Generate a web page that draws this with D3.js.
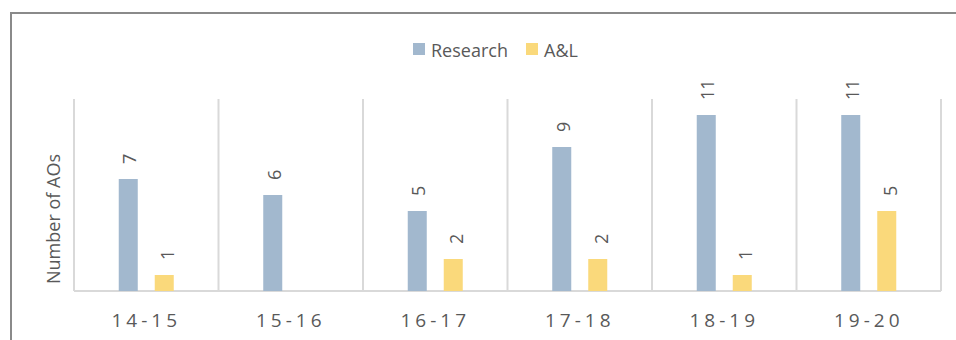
<!DOCTYPE html>
<html>
<head>
<meta charset="utf-8">
<script src="https://cdn.jsdelivr.net/npm/d3@7"></script>
<style>
  body { margin: 0; background: #fff; }
  svg { display: block; }
  text { font-family: "Open Sans", "Noto Sans", sans-serif; fill: #595959; }
</style>
</head>
<body>
<svg width="956" height="340"></svg>
<script>
const years = ["14-15", "15-16", "16-17", "17-18", "18-19", "19-20"];
const series = ["Research", "A&L"];
const research = [7, 6, 5, 9, 11, 11];
const al = [1, null, 2, 2, 1, 5];
const colors = ["#a2b8ce", "#fad97b"];

const svg = d3.select("svg");

// chart frame (cropped on the right and bottom)
svg.append("path")
  .attr("d", "M11,340 V13 H956")
  .attr("fill", "none")
  .attr("stroke", "#8a8a8a")
  .attr("stroke-width", 2);

const plotLeft = 74, plotRight = 941, plotTop = 99, plotBottom = 291;

const x0 = d3.scaleBand().domain(years).range([plotLeft, plotRight]);
const x1 = d3.scaleBand().domain(series)
  .range([0, x0.bandwidth()])
  .paddingInner(0.472)
  .paddingOuter(1.243);
const y = d3.scaleLinear().domain([0, 12]).range([plotBottom, plotTop]);

// category dividers
const divs = years.map(d => x0(d)).concat([plotRight]);
svg.append("g").selectAll("line")
  .data(divs)
  .join("line")
  .attr("x1", d => d).attr("x2", d => d)
  .attr("y1", plotTop).attr("y2", plotBottom)
  .attr("stroke", "#d9d9d9")
  .attr("stroke-width", 2);

// baseline
svg.append("line")
  .attr("x1", plotLeft).attr("x2", plotRight)
  .attr("y1", plotBottom).attr("y2", plotBottom)
  .attr("stroke", "#d9d9d9")
  .attr("stroke-width", 2);

const rows = years.map((yr, i) => ({ yr, vals: [research[i], al[i]] }));

const groups = svg.append("g").selectAll("g")
  .data(rows)
  .join("g")
  .attr("transform", d => `translate(${x0(d.yr)},0)`);

const cells = groups.selectAll("g")
  .data(d => series.map((s, j) => ({ s, j, v: d.vals[j] })).filter(c => c.v != null))
  .join("g");

cells.append("rect")
  .attr("x", c => x1(c.s))
  .attr("width", x1.bandwidth())
  .attr("y", c => y(c.v))
  .attr("height", c => plotBottom - y(c.v))
  .attr("fill", c => colors[c.j]);

cells.append("text")
  .attr("transform", c => `translate(${x1(c.s) + x1.bandwidth() / 2 + 8 + c.j * 2},${y(c.v) - 15}) rotate(-90)`)
  .attr("text-anchor", "start")
  .attr("font-size", 18)
  .text(c => c.v);

// x labels
svg.append("g").selectAll("text")
  .data(years)
  .join("text")
  .attr("x", d => x0(d) + x0.bandwidth() / 2)
  .attr("y", 327)
  .attr("text-anchor", "middle")
  .attr("font-size", 19)
  .attr("letter-spacing", 4)
  .text(d => d);

// y title
svg.append("text")
  .attr("transform", "translate(60,219) rotate(-90)")
  .attr("text-anchor", "middle")
  .attr("font-size", 18)
  .text("Number of AOs");

// legend
const leg = svg.append("g");
const legX = [413, 526];
series.forEach((s, i) => {
  leg.append("rect")
    .attr("x", legX[i]).attr("y", 43)
    .attr("width", 12).attr("height", 12)
    .attr("fill", colors[i]);
  leg.append("text")
    .attr("x", legX[i] + 18).attr("y", 57)
    .attr("font-size", 18)
    .text(s);
});
</script>
</body>
</html>
